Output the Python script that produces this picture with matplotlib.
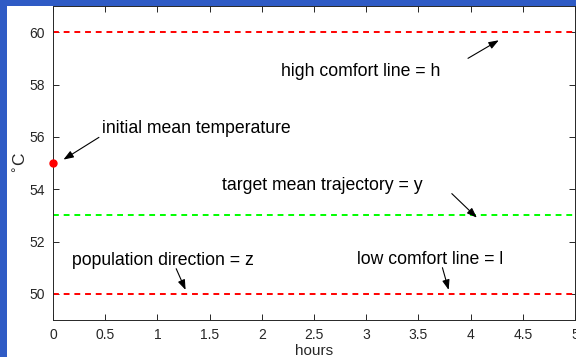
import matplotlib
matplotlib.use("Agg")
import matplotlib.pyplot as plt
from matplotlib.patches import Rectangle

plt.rcParams["font.family"] = ["Liberation Sans", "DejaVu Sans"]

# levels (degrees C)
high_level = 60
low_level = 50
target_level = 53
initial_time = 0
initial_temp = 55

x_limits = [0, 5]
y_limits = [49, 61]
x_ticks = [0, 0.5, 1, 1.5, 2, 2.5, 3, 3.5, 4, 4.5, 5]
x_ticklabels = ["0", "0.5", "1", "1.5", "2", "2.5", "3", "3.5", "4", "4.5", "5"]
y_ticks = [50, 52, 54, 56, 58, 60]

# annotation labels: text, text anchor (left, centre), arrow tail, arrow tip
labels = ["high comfort line = h", "initial mean temperature",
          "target mean trajectory = y", "population direction = z",
          "low comfort line = l"]
text_pos = [(2.18, 58.51), (0.47, 56.32), (1.62, 54.14), (0.18, 51.26), (2.91, 51.30)]
arrow_tail = [(3.975, 59.00), (0.44, 55.98), (3.82, 53.83), (1.18, 50.96), (3.73, 51.0)]
arrow_tip = [(4.27, 59.69), (0.10, 55.13), (4.06, 52.91), (1.27, 50.15), (3.79, 50.15)]

fig = plt.figure(figsize=(5.76, 3.57), dpi=100, facecolor="#2F5BC5")
fig.patches.append(Rectangle((7 / 576, 0), 1, 1 - 6 / 357, transform=fig.transFigure,
                             facecolor="white", edgecolor="none", zorder=-1))
ax = fig.add_axes([53 / 576, 1 - 320 / 357, 522 / 576, 314 / 357])
ax.set_facecolor("white")

dash = (3.0, 2.5)
ax.axhline(high_level, color="red", ls="--", lw=1.4, dashes=dash)
ax.axhline(low_level, color="red", ls="--", lw=1.4, dashes=dash)
ax.axhline(target_level, color="#00FF00", ls="--", lw=1.4, dashes=dash)
ax.plot([initial_time], [initial_temp], "o", color="red", ms=5, clip_on=False, zorder=5)

for lab, tp, tail, tip in zip(labels, text_pos, arrow_tail, arrow_tip):
    ax.text(tp[0], tp[1], lab, ha="left", va="center", fontsize=12.7, color="black")
    ax.annotate("", xy=tip, xytext=tail,
                arrowprops=dict(arrowstyle="-|>,head_length=0.6,head_width=0.22",
                                color="black", lw=0.8, shrinkA=0, shrinkB=0))

ax.set_xlim(x_limits)
ax.set_ylim(y_limits)
ax.set_xticks(x_ticks)
ax.set_xticklabels(x_ticklabels)
ax.set_yticks(y_ticks)
ax.tick_params(direction="in", top=True, right=True, length=4, width=0.7,
               colors="#262626", labelsize=10, pad=6)
for sp in ax.spines.values():
    sp.set_color("#262626")
    sp.set_linewidth(0.7)
ax.set_xlabel("hours", fontsize=11, color="#262626", labelpad=1)
ax.set_ylabel("$^{\\circ}$C", fontsize=12.5, color="#262626", labelpad=0)

fig.savefig("out.png", dpi=100, facecolor=fig.get_facecolor())
